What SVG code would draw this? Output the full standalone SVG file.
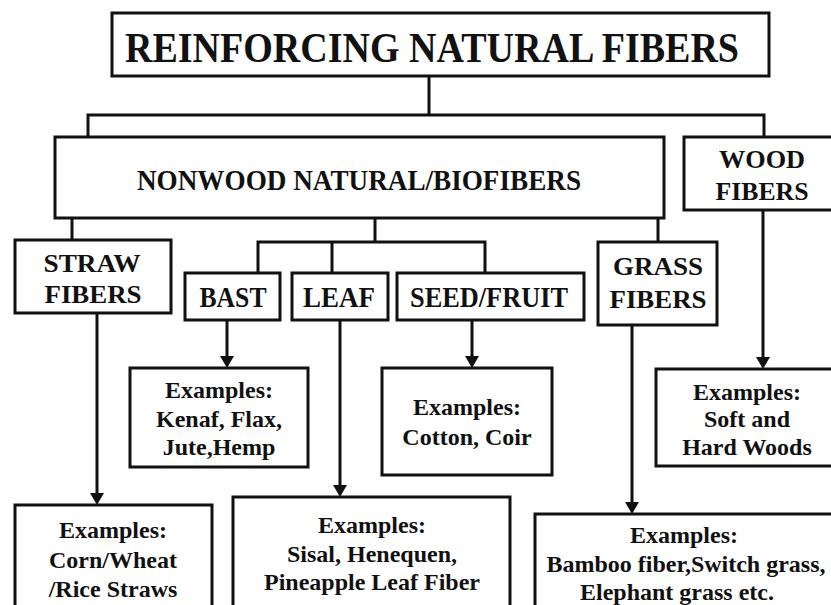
<svg xmlns="http://www.w3.org/2000/svg" width="831" height="605" viewBox="0 0 831 605">
<style>
.box{fill:#fff;stroke:#111;stroke-width:3}
.ln{fill:none;stroke:#111;stroke-width:3}
.t{font-family:"Liberation Serif","Times New Roman",serif;font-weight:bold;fill:#111;text-anchor:middle}
.title{font-size:42px}
.nw{font-size:29px}
.lb2{font-size:26px}
.lb1{font-size:29px}
.ex{font-size:24px}
</style>
<defs>
<marker id="arr" markerUnits="userSpaceOnUse" markerWidth="14" markerHeight="14" viewBox="0 0 12 14" refX="6" refY="7" orient="auto">
<path d="M0,0 L12,7 L0,14 z" fill="#111"/>
</marker>
</defs>
<rect width="831" height="605" fill="#fff"/>
<g id="connectors">
<path class="ln" d="M429 76 V115"/>
<path class="ln" d="M88 137 V115 H764 V137"/>
<path class="ln" d="M72 218 V240"/>
<path class="ln" d="M375 218 V242"/>
<path class="ln" d="M258 273 V242 H485 V273"/>
<path class="ln" d="M332 242 V273"/>
<path class="ln" d="M658 218 V242"/>
<path class="ln" d="M227 320 V362" marker-end="url(#arr)"/>
<path class="ln" d="M472 320 V362" marker-end="url(#arr)"/>
<path class="ln" d="M763 210 V363" marker-end="url(#arr)"/>
<path class="ln" d="M97 313 V499" marker-end="url(#arr)"/>
<path class="ln" d="M340 320 V491" marker-end="url(#arr)"/>
<path class="ln" d="M632 325 V508" marker-end="url(#arr)"/>
</g>
<g id="title">
<rect class="box" x="112" y="13" width="657" height="63"/>
<text class="t title" x="432" y="62" textLength="614" lengthAdjust="spacingAndGlyphs">REINFORCING NATURAL FIBERS</text>
</g>
<g id="nonwood">
<rect class="box" x="55" y="137" width="609" height="81"/>
<text class="t nw" x="359" y="190" textLength="444" lengthAdjust="spacingAndGlyphs">NONWOOD NATURAL/BIOFIBERS</text>
</g>
<g id="wood">
<rect class="box" x="684" y="137" width="160" height="73"/>
<text class="t lb2" x="762" y="168" textLength="86" lengthAdjust="spacingAndGlyphs">WOOD</text>
<text class="t lb2" x="762" y="200" textLength="93" lengthAdjust="spacingAndGlyphs">FIBERS</text>
</g>
<g id="straw">
<rect class="box" x="15" y="240" width="156" height="73"/>
<text class="t lb2" x="92" y="272" textLength="97" lengthAdjust="spacingAndGlyphs">STRAW</text>
<text class="t lb2" x="93" y="303" textLength="97" lengthAdjust="spacingAndGlyphs">FIBERS</text>
</g>
<g id="bast">
<rect class="box" x="185" y="273" width="95" height="47"/>
<text class="t lb1" x="233" y="307" textLength="67" lengthAdjust="spacingAndGlyphs">BAST</text>
</g>
<g id="leaf">
<rect class="box" x="292" y="273" width="96" height="47"/>
<text class="t lb1" x="339" y="307" textLength="72" lengthAdjust="spacingAndGlyphs">LEAF</text>
</g>
<g id="seed">
<rect class="box" x="397" y="273" width="187" height="47"/>
<text class="t lb1" x="489" y="307" textLength="158" lengthAdjust="spacingAndGlyphs">SEED/FRUIT</text>
</g>
<g id="grass">
<rect class="box" x="598" y="242" width="119" height="83"/>
<text class="t lb2" x="658" y="275" textLength="90" lengthAdjust="spacingAndGlyphs">GRASS</text>
<text class="t lb2" x="658" y="308" textLength="97" lengthAdjust="spacingAndGlyphs">FIBERS</text>
</g>
<g id="bast-examples">
<rect class="box" x="130" y="368" width="178" height="99"/>
<text class="t ex" x="219" y="398">Examples:</text>
<text class="t ex" x="219" y="427">Kenaf, Flax,</text>
<text class="t ex" x="219" y="455">Jute,Hemp</text>
</g>
<g id="seed-examples">
<rect class="box" x="382" y="368" width="170" height="107"/>
<text class="t ex" x="467" y="415">Examples:</text>
<text class="t ex" x="467" y="445">Cotton, Coir</text>
</g>
<g id="wood-examples">
<rect class="box" x="656" y="369" width="190" height="97"/>
<text class="t ex" x="747" y="400">Examples:</text>
<text class="t ex" x="747" y="427">Soft and</text>
<text class="t ex" x="747" y="455">Hard Woods</text>
</g>
<g id="straw-examples">
<rect class="box" x="15" y="505" width="197" height="110"/>
<text class="t ex" x="113" y="538">Examples:</text>
<text class="t ex" x="113" y="568">Corn/Wheat</text>
<text class="t ex" x="113" y="597">/Rice Straws</text>
</g>
<g id="leaf-examples">
<rect class="box" x="233" y="497" width="277" height="120"/>
<text class="t ex" x="372" y="533">Examples:</text>
<text class="t ex" x="372" y="562">Sisal, Henequen,</text>
<text class="t ex" x="372" y="590">Pineapple Leaf Fiber</text>
</g>
<g id="grass-examples">
<rect class="box" x="535" y="514" width="310" height="100"/>
<text class="t ex" x="684" y="543">Examples:</text>
<text class="t ex" x="686" y="572">Bamboo fiber,Switch grass,</text>
<text class="t ex" x="677" y="600">Elephant grass etc.</text>
</g>
</svg>
